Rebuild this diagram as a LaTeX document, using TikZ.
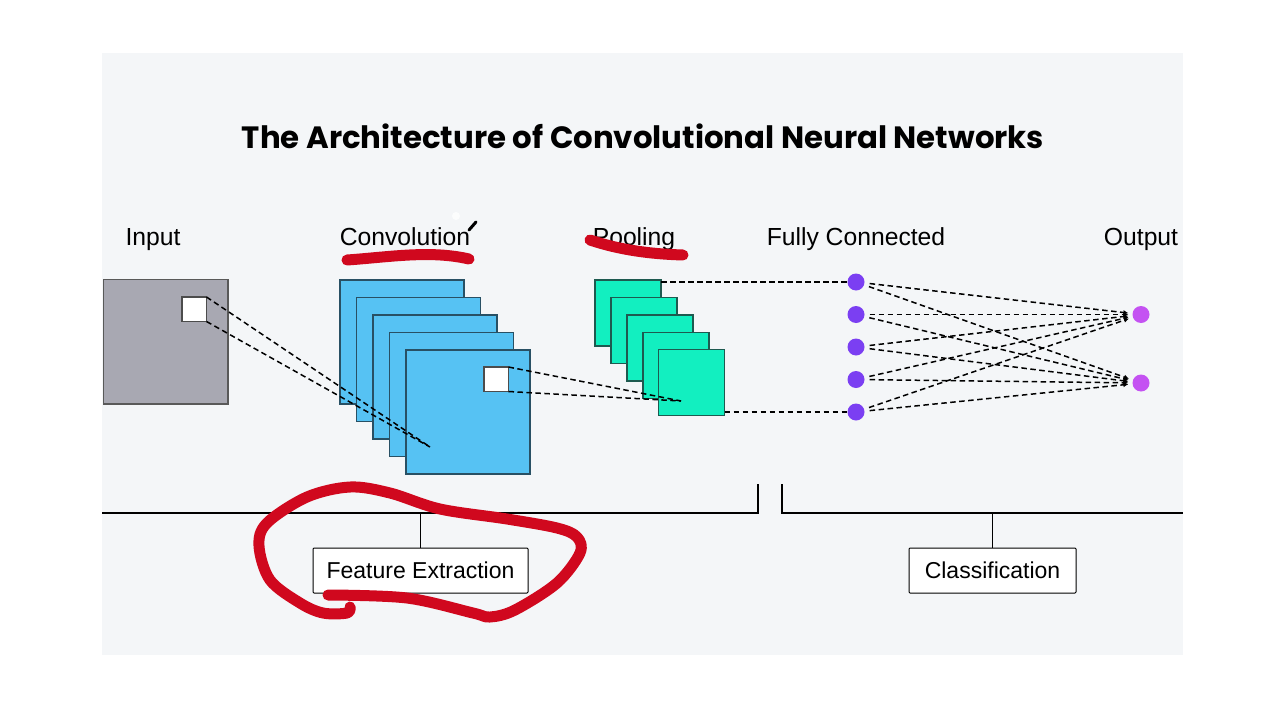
\documentclass[tikz,border=0pt]{standalone}
\usepackage{fontspec}
\setmainfont{Liberation Sans}
\newfontfamily\titlefont{Poppins}
\usetikzlibrary{arrows.meta}
\definecolor{panel}{RGB}{244,246,248}
\definecolor{inputgray}{RGB}{168,168,178}
\definecolor{convblue}{RGB}{86,194,243}
\definecolor{convedge}{RGB}{40,80,100}
\definecolor{poolgreen}{RGB}{18,239,192}
\definecolor{pooledge}{RGB}{30,90,80}
\definecolor{hidpurple}{RGB}{123,63,242}
\definecolor{outmag}{RGB}{196,82,242}
\definecolor{annred}{RGB}{208,8,30}
\begin{document}
\begin{tikzpicture}[x=1pt,y=-1pt,
  inputsq/.style={draw=black!65, fill=inputgray, minimum size=124.5, inner sep=0, outer sep=0, anchor=north west, line width=1.1pt},
  convsq/.style={draw=convedge, fill=convblue, minimum size=124, inner sep=0, outer sep=0, anchor=north west, line width=1.1pt},
  poolsq/.style={draw=pooledge, fill=poolgreen, minimum size=66, inner sep=0, outer sep=0, anchor=north west, line width=1.1pt},
  win/.style={draw=black!70, fill=white, minimum size=24.5, inner sep=0, outer sep=0, anchor=north west, line width=1.1pt},
  hid/.style={circle, fill=hidpurple, minimum size=17, inner sep=0},
  outn/.style={circle, fill=outmag, minimum size=17, inner sep=0},
  dline/.style={dash pattern=on 5.5pt off 3.5pt, line width=1.5pt, black},
  lab/.style={font=\fontsize{24.7}{28}\selectfont, anchor=base},
  catbox/.style={draw, fill=white, line width=1pt, minimum height=45, font=\fontsize{23}{26}\selectfont, inner sep=0, rounded corners=1pt},
  bracket/.style={line width=1.3pt, black},
  redmark/.style={draw=annred, line width=11pt, line cap=round, line join=round}
]
\useasboundingbox (0,0) rectangle (1280,720);
\fill[white] (0,0) rectangle (1280,720);
\fill[panel] (102,53) rectangle (1183,655);

% title
\node[font=\titlefont\bfseries\fontsize{30.8}{36}\selectfont, anchor=base] (title) at (643,148) {The Architecture of Convolutional Neural Networks};

% stage labels
\node[lab] (linput) at (153,245) {Input};
\node[lab] (lconv) at (405,245) {Convolution};
\node[lab] (lpool) at (634,245) {Pooling};
\node[lab] (lfc) at (856,245) {Fully Connected};
\node[lab] (lout) at (1141,245) {Output};

% input
\node[inputsq] (in) at (103.5,279.5) {};
\node[win] (inw) at (182,297) {};

% convolution maps
\node[convsq] (c1) at (340,280) {};
\node[convsq] (c2) at (356.5,297.5) {};
\node[convsq] (c3) at (373,315) {};
\node[convsq] (c4) at (389.5,332.5) {};
\node[convsq] (c5) at (406,350) {};
\node[win] (cw) at (484,367) {};

% pooling maps
\node[poolsq] (p1) at (595,280) {};
\node[poolsq] (p2) at (611,297.5) {};
\node[poolsq] (p3) at (627,315) {};
\node[poolsq] (p4) at (643,332.5) {};
\node[poolsq] (p5) at (658.5,349.5) {};

% receptive field lines
\coordinate (cin) at (430,447);
\draw[dline] (inw.north east) -- (cin);
\draw[dline] (inw.south east) -- (cin);
\coordinate (cpool) at (681,401);
\draw[dline] (cw.north east) -- (cpool);
\draw[dline] (cw.south east) -- (cpool);

% fully connected
\node[hid] (h1) at (856,282) {};
\node[hid] (h2) at (856,314.5) {};
\node[hid] (h3) at (856,347) {};
\node[hid] (h4) at (856,379.5) {};
\node[hid] (h5) at (856,412) {};
\node[outn] (o1) at (1141,314.5) {};
\node[outn] (o2) at (1141,383) {};

\draw[dline] (h1 -| p1.east) -- (h1);
\draw[dline] (h5 -| p5.east) -- (h5);

\foreach \i in {1,...,5}{
  \foreach \j in {1,2}{
    \draw[dline, -{Latex[length=5pt,width=5pt]}, shorten <=5pt, shorten >=4pt] (h\i) -- (o\j);
  }
}

% brackets
\coordinate (fl) at (102,513);
\coordinate (fr) at (758,513);
\coordinate (ft) at (758,484);
\coordinate (ct) at (782,484);
\coordinate (cb) at (782,513);
\coordinate (cr) at (1183,513);
\draw[bracket] (fl) -- (fr) -- (ft);
\draw[bracket] (ct) -- (cb) -- (cr);

\node[catbox, minimum width=215] (fe) at (420.5,570.5) {Feature Extraction};
\node[catbox, minimum width=167] (cls) at (992.5,570.5) {Classification};
\draw[bracket] (fe.north) -- (fe.north |- fl);
\draw[bracket] (cls.north) -- (cls.north |- cr);

% red annotations
\draw[redmark] (347,260) .. controls (390,257) and (430,250) .. (469,259);
\draw[redmark] (590,240) .. controls (620,250) and (650,254) .. (683,255);
\draw[redmark, line width=11pt] plot[smooth, tension=0.55] coordinates {
  (328,595) (407,598) (473,613) (490,617) (515,610) (557,583) (580,553)
  (577,537) (557,528) (507,519) (440,509) (390,493) (350,487) (307,497)
  (267,523) (259,546) (270,580) (300,603) (323,613) (347,613) (350,607)};

% pen cursor
\fill[white, opacity=0.8] (456,216) circle (4);
\draw[line width=3pt, line cap=round, black] (469,230) -- (476,222);
\end{tikzpicture}
\end{document}
